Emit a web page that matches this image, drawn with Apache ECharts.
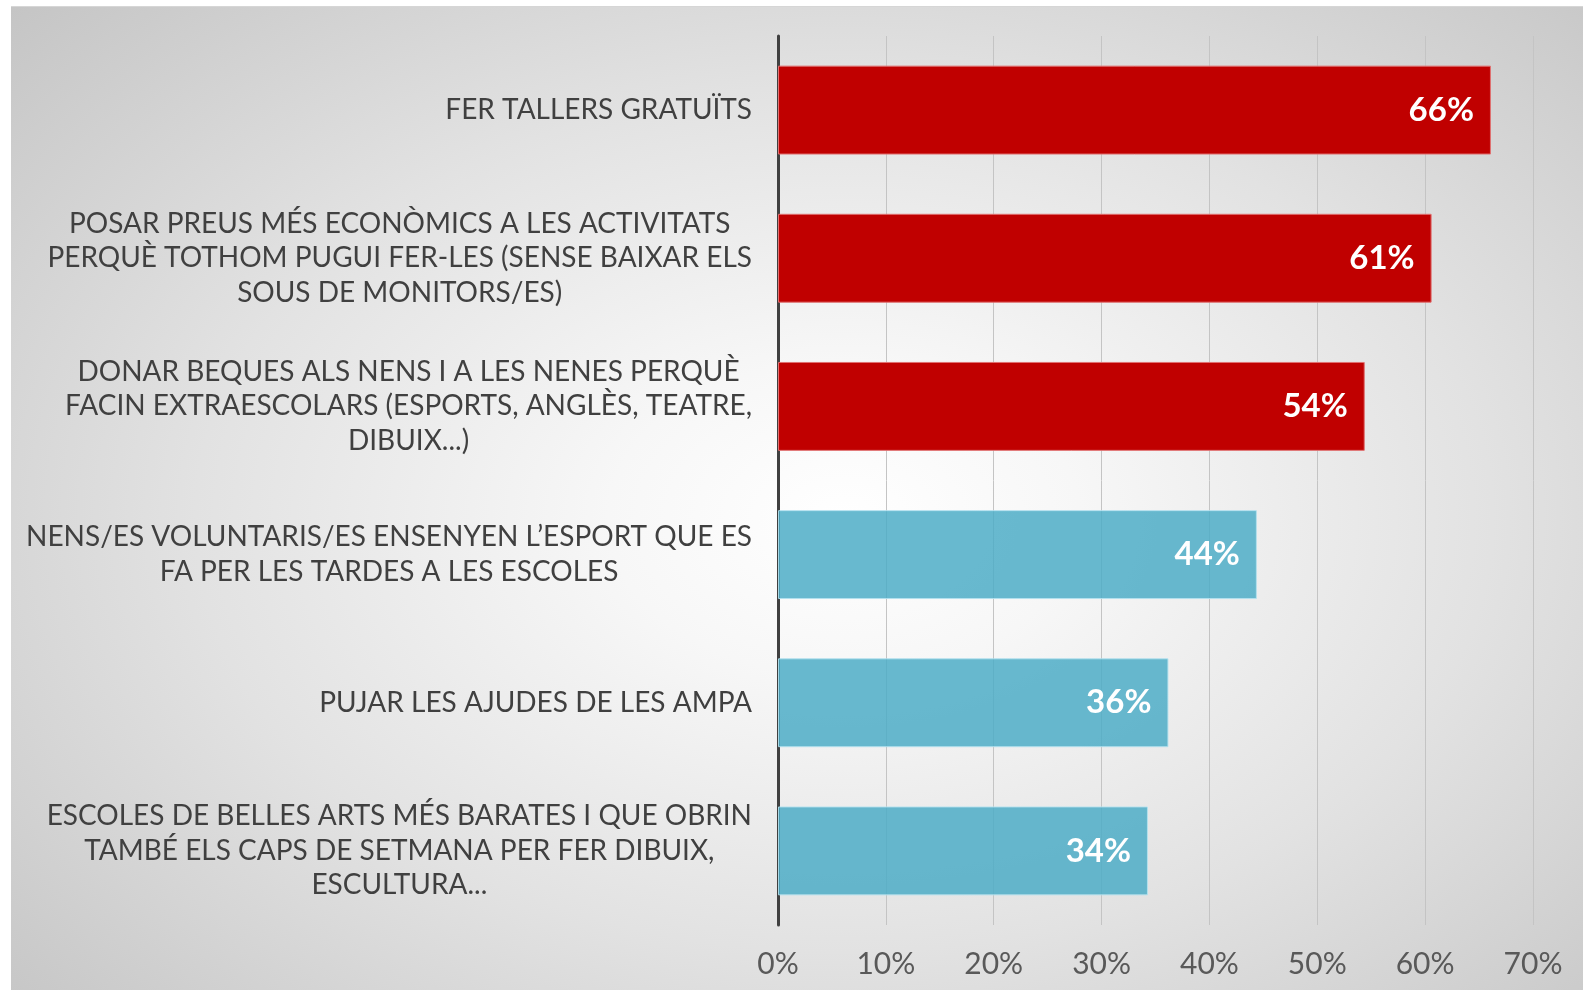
<!DOCTYPE html>
<html>
<head>
<meta charset="utf-8">
<script src="https://cdn.jsdelivr.net/npm/echarts@6/dist/echarts.min.js"></script>
<style>
html,body{margin:0;padding:0;background:#fff;width:1583px;height:990px;overflow:hidden;}
#bg{position:absolute;left:11px;top:6px;width:1572px;height:984px;border-top:1px solid #d6d6d6;
background:radial-gradient(ellipse 75% 80% at 53% 52%, #ffffff 0%, #f7f7f7 20%, #e2e2e2 55%, #c2c2c2 100%);}
#chart{position:absolute;left:0;top:0;width:1583px;height:990px;}
</style>
</head>
<body>
<div id="bg"></div>
<div id="chart"></div>
<script>
const categories = [
  "FER TALLERS GRATUÏTS",
  "POSAR PREUS MÉS ECONÒMICS A LES ACTIVITATS\nPERQUÈ TOTHOM PUGUI FER-LES (SENSE BAIXAR ELS\nSOUS DE MONITORS/ES)",
  "DONAR BEQUES ALS NENS I A LES NENES PERQUÈ\nFACIN EXTRAESCOLARS (ESPORTS, ANGLÈS, TEATRE,\nDIBUIX...)",
  "NENS/ES VOLUNTARIS/ES ENSENYEN L’ESPORT QUE ES\nFA PER LES TARDES A LES ESCOLES",
  "PUJAR LES AJUDES DE LES AMPA",
  "ESCOLES DE BELLES ARTS MÉS BARATES I QUE OBRIN\nTAMBÉ ELS CAPS DE SETMANA PER FER DIBUIX,\nESCULTURA..."
];
const values = [66.1, 60.6, 54.4, 44.4, 36.2, 34.3];
const highlighted = [true, true, true, false, false, false];
const xTicks = [0, 10, 20, 30, 40, 50, 60, 70];

const chart = echarts.init(document.getElementById('chart'), null, {renderer: 'canvas'});
const option = {
  backgroundColor: 'transparent',
  animation: false,
  grid: {left: 778, right: 50, top: 36, bottom: 65, containLabel: false},
  xAxis: {
    type: 'value',
    min: xTicks[0],
    max: xTicks[xTicks.length - 1],
    interval: 10,
    axisLine: {show: false},
    axisTick: {show: false},
    splitLine: {show: true, lineStyle: {color: '#c4c4c4', width: 1}},
    axisLabel: {
      formatter: v => v + '%',
      color: '#595959',
      fontFamily: 'Lato',
      fontSize: 30,
      margin: 24
    }
  },
  yAxis: {
    type: 'category',
    data: categories,
    inverse: true,
    axisLine: {show: true, lineStyle: {color: '#404040', width: 3}},
    axisTick: {show: false},
    splitLine: {show: false},
    axisLabel: {
      margin: 26,
      align: 'right',
      color: '#404040',
      fontFamily: 'Lato',
      fontSize: 28,
      lineHeight: 34.5,
      formatter: v => v.split('\n').map(l => '{c|' + l + '}').join('\n'),
      rich: {c: {align: 'center', color: '#404040', fontFamily: 'Lato', fontSize: 28, lineHeight: 34.5}}
    }
  },
  series: [{
    type: 'bar',
    barWidth: '60%',
    data: values.map((v, i) => ({
      value: v,
      itemStyle: highlighted[i]
        ? {color: '#c00000', borderColor: '#e07070', borderWidth: 1}
        : {color: 'rgba(75,172,198,0.84)', borderColor: 'rgba(180,225,238,0.9)', borderWidth: 1}
    })),
    label: {
      show: true,
      position: 'insideRight',
      distance: 17,
      formatter: p => Math.round(p.value) + '%',
      color: '#ffffff',
      fontFamily: 'Lato',
      fontWeight: 'bold',
      fontSize: 33
    }
  }]
};
chart.setOption(option);
</script>
</body>
</html>
